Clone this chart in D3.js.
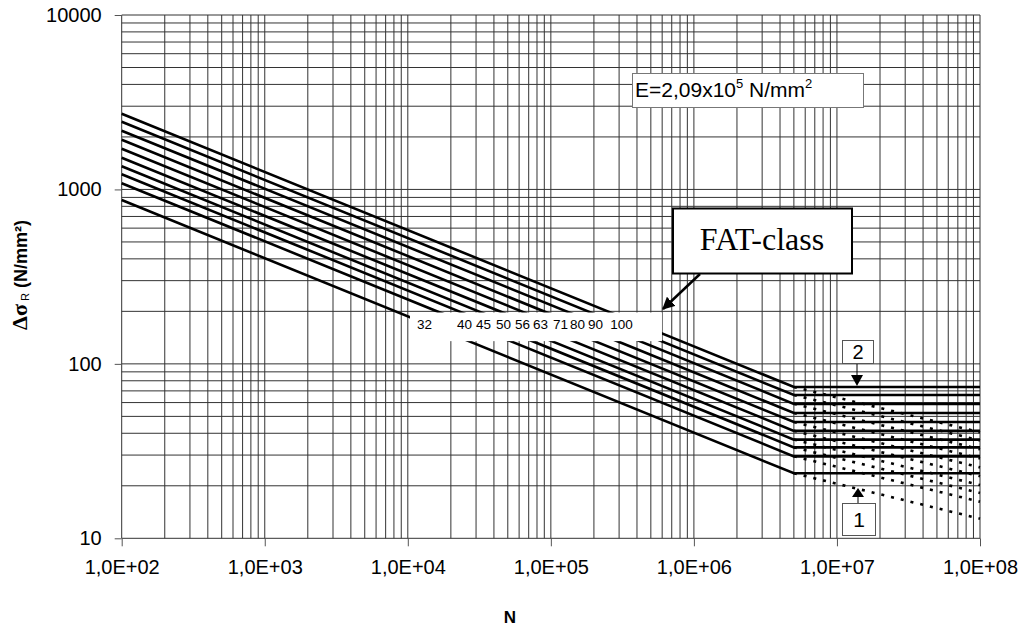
<!DOCTYPE html>
<html>
<head>
<meta charset="utf-8">
<script src="https://cdn.jsdelivr.net/npm/d3@7"></script>
<style>
  html, body { margin: 0; padding: 0; background: #fff; }
  svg { display: block; }
  text { font-family: "Liberation Sans", Arial, sans-serif; }
</style>
</head>
<body>
<svg id="chart" width="1025" height="637"></svg>
<script>
// ---- data ----
const fatClasses   = [32, 40, 45, 50, 56, 63, 71, 80, 90, 100];
// stress range at N = 1e2 (start of curves)
const stressAtStart = [869, 1086, 1222, 1357, 1520, 1710, 1927, 2172, 2443, 2714];
// stress range at the knee point N = 5e6
const stressAtKnee  = [23.6, 29.5, 33.2, 36.8, 41.3, 46.4, 52.3, 59.0, 66.3, 73.7];
// end of the dotted (m = 5) branches at N = 1e8
const stressDottedEnd = [12.95, 16.2, 18.2, 20.2, 22.7, 25.5, 28.7, 32.4, 36.4, 40.5];
const nStart = 1e2, nKnee = 5e6, nEnd = 1e8;
// positions of the FAT-class labels along N
const labelN = [1.16e4, 2.21e4, 3.0e4, 4.14e4, 5.62e4, 7.5e4, 1.035e5, 1.36e5, 1.82e5, 2.6e5];
const xTickValues = [1e2, 1e3, 1e4, 1e5, 1e6, 1e7, 1e8];
const xTickLabels = ["1,0E+02", "1,0E+03", "1,0E+04", "1,0E+05", "1,0E+06", "1,0E+07", "1,0E+08"];
const yTickValues = [10, 100, 1000, 10000];
const yTickLabels = ["10", "100", "1000", "10000"];

// ---- layout ----
const svg = d3.select("#chart");
const x = d3.scaleLog().domain([1e2, 1e8]).range([121.7, 980]);
const y = d3.scaleLog().domain([10, 10000]).range([538.3, 15]);

// grid values: 1..9 in each decade
const xGrid = [];
for (let e = 2; e < 8; e++) for (let k = 1; k <= 9; k++) xGrid.push(k * Math.pow(10, e));
xGrid.push(1e8);
const yGrid = [];
for (let e = 1; e < 4; e++) for (let k = 1; k <= 9; k++) yGrid.push(k * Math.pow(10, e));
yGrid.push(1e4);

const grid = svg.append("g");
grid.selectAll("line.v").data(xGrid).join("line")
  .attr("x1", d => x(d)).attr("x2", d => x(d))
  .attr("y1", y(10000)).attr("y2", y(10))
  .attr("stroke", "#333").attr("stroke-width", 1);
grid.selectAll("line.h").data(yGrid).join("line")
  .attr("x1", x(1e2)).attr("x2", x(1e8))
  .attr("y1", d => y(d)).attr("y2", d => y(d))
  .attr("stroke", "#333").attr("stroke-width", 1);

// axes (tick marks + labels)
const xAxis = d3.axisBottom(x).tickValues(xTickValues)
  .tickFormat((d, i) => xTickLabels[i]).tickSize(8).tickPadding(14);
const gx = svg.append("g").attr("transform", `translate(0,${y(10)})`).call(xAxis);
gx.select(".domain").remove();
gx.selectAll(".tick line").attr("stroke", "#555");
gx.selectAll(".tick text").attr("font-size", 20).attr("fill", "#000")
  .style("font-family", "Liberation Sans, Arial, sans-serif");

const yAxis = d3.axisLeft(y).tickValues(yTickValues)
  .tickFormat((d, i) => yTickLabels[i]).tickSize(7).tickPadding(13);
const gy = svg.append("g").attr("transform", `translate(${x(1e2)},0)`).call(yAxis);
gy.select(".domain").remove();
gy.selectAll(".tick line").attr("stroke", "#555");
gy.selectAll(".tick text").attr("font-size", 20).attr("fill", "#000")
  .style("font-family", "Liberation Sans, Arial, sans-serif");

// ---- curves ----
const line = d3.line().x(d => x(d[0])).y(d => y(d[1]));
const curves = fatClasses.map((f, i) => [
  [nStart, stressAtStart[i]], [nKnee, stressAtKnee[i]], [nEnd, stressAtKnee[i]]
]);
const dotted = fatClasses.map((f, i) => [
  [nKnee, stressAtKnee[i]], [nEnd, stressDottedEnd[i]]
]);
svg.append("g").selectAll("path").data(dotted).join("path")
  .attr("d", line).attr("fill", "none").attr("stroke", "#000")
  .attr("stroke-width", 2.6).attr("stroke-dasharray", "3,7");
svg.append("g").selectAll("path").data(curves).join("path")
  .attr("d", line).attr("fill", "none").attr("stroke", "#000")
  .attr("stroke-width", 2.6).attr("stroke-linejoin", "miter");

// white label band
const bandX0 = x(1.036e4), bandX1 = x(5.98e5);
const bandY0 = y(197), bandY1 = y(135);
svg.append("rect").attr("x", bandX0).attr("y", bandY0)
  .attr("width", bandX1 - bandX0).attr("height", bandY1 - bandY0).attr("fill", "#fff");
svg.append("g").selectAll("text").data(fatClasses).join("text")
  .attr("x", (d, i) => x(labelN[i])).attr("y", bandY0 + 16)
  .attr("font-size", 13.5).attr("fill", "#000").text(d => d);

// ---- annotations ----
const defs = svg.append("defs");
defs.append("marker").attr("id", "ah").attr("viewBox", "0 0 10 10")
  .attr("refX", 9).attr("refY", 5).attr("markerWidth", 5).attr("markerHeight", 5)
  .attr("markerUnits", "strokeWidth").attr("orient", "auto")
  .append("path").attr("d", "M0,0 L10,5 L0,10 z").attr("fill", "#000");

// E box
svg.append("rect").attr("x", 632.5).attr("y", 73.5).attr("width", 231).attr("height", 34)
  .attr("fill", "#fff").attr("stroke", "#777").attr("stroke-width", 1);
const eText = svg.append("text").attr("x", 635).attr("y", 97).attr("font-size", 21).attr("fill", "#000");
eText.append("tspan").text("E=2,09x10");
eText.append("tspan").attr("font-size", 13).attr("dy", -9).text("5");
eText.append("tspan").attr("dy", 9).text(" N/mm");
eText.append("tspan").attr("font-size", 13).attr("dy", -9).text("2");

// FAT-class box
svg.append("line").attr("x1", 700).attr("y1", 274).attr("x2", 663).attr("y2", 309)
  .attr("stroke", "#000").attr("stroke-width", 2.5).attr("marker-end", "url(#ah)");
svg.append("rect").attr("x", 673).attr("y", 208.5).attr("width", 179).attr("height", 65)
  .attr("fill", "#fff").attr("stroke", "#000").attr("stroke-width", 2);
svg.append("text").attr("x", 762).attr("y", 250).attr("text-anchor", "middle")
  .attr("font-size", 32).style("font-family", "Liberation Serif, Times New Roman, serif")
  .attr("fill", "#000").text("FAT-class");

// box "2" with arrow down
svg.append("line").attr("x1", 857).attr("y1", 363).attr("x2", 857).attr("y2", 375)
  .attr("stroke", "#000").attr("stroke-width", 1);
svg.append("path").attr("d", "M851,375 L863,375 L857,386 Z").attr("fill", "#000");
svg.append("rect").attr("x", 842.5).attr("y", 340.5).attr("width", 31).attr("height", 23)
  .attr("fill", "#fff").attr("stroke", "#555").attr("stroke-width", 1);
svg.append("text").attr("x", 858).attr("y", 359).attr("text-anchor", "middle")
  .attr("font-size", 20).attr("fill", "#000").text("2");

// box "1" with arrow up
svg.append("line").attr("x1", 858).attr("y1", 503).attr("x2", 858).attr("y2", 496)
  .attr("stroke", "#000").attr("stroke-width", 1);
svg.append("path").attr("d", "M852,497 L864,497 L858,488 Z").attr("fill", "#000");
svg.append("rect").attr("x", 842.5).attr("y", 503.5).attr("width", 33).attr("height", 32)
  .attr("fill", "#fff").attr("stroke", "#555").attr("stroke-width", 1);
svg.append("text").attr("x", 859).attr("y", 527).attr("text-anchor", "middle")
  .attr("font-size", 21).attr("fill", "#000").text("1");

// axis titles
svg.append("text").attr("x", 510).attr("y", 623).attr("text-anchor", "middle")
  .attr("font-size", 17).attr("font-weight", "bold").attr("fill", "#000").text("N");

const yt = svg.append("text").attr("transform", "translate(27,275) rotate(-90)")
  .attr("text-anchor", "middle").attr("font-size", 18).attr("font-weight", "bold").attr("fill", "#000");
yt.append("tspan").style("font-family", "Liberation Serif, Times New Roman, serif").attr("font-size", 22).text("Δσ");
yt.append("tspan").attr("font-size", 11).attr("font-weight", "normal").attr("dy", 2).text(" R");
yt.append("tspan").attr("dy", -2).text(" (N/mm²)");
</script>
</body>
</html>
